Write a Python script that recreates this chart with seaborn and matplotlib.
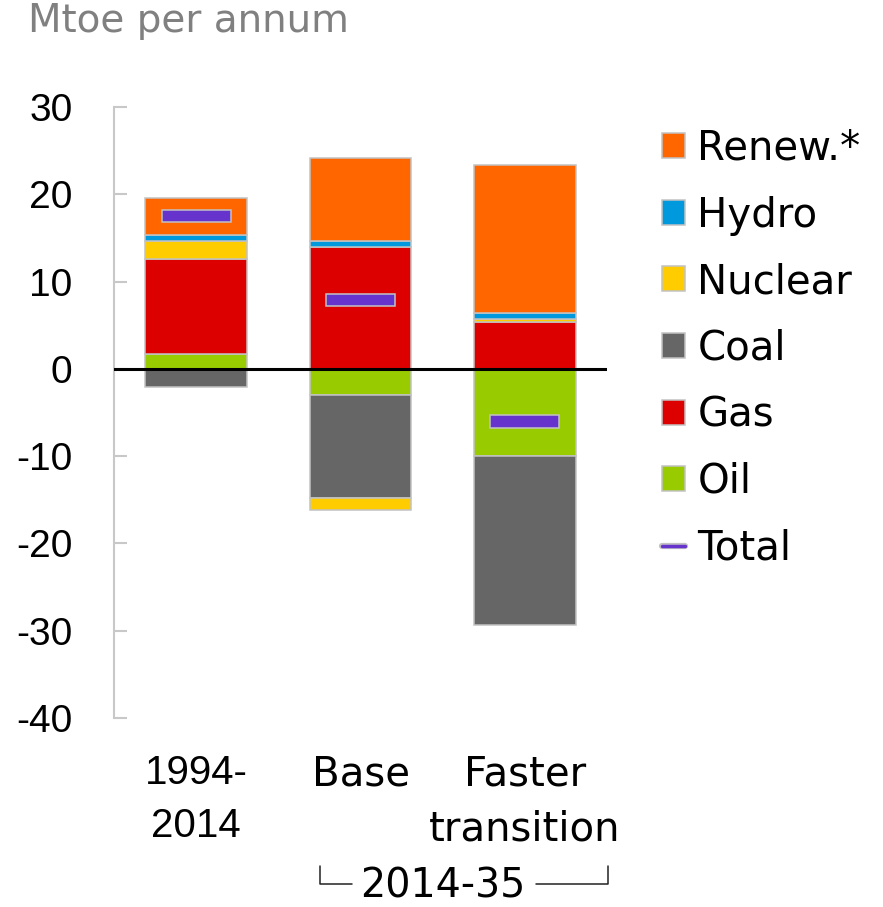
import numpy as np
import pandas as pd
import matplotlib
matplotlib.use("Agg")
import matplotlib.pyplot as plt
from matplotlib.patches import Patch
from matplotlib.lines import Line2D
import matplotlib.patheffects as pe
import seaborn as sns

# Change in primary energy consumption by fuel, Mtoe per annum
periods = ["1994-\n2014", "Base", "Faster\ntransition"]
oil = [1.7, -3.0, -10.0]
gas = [10.9, 14.0, 5.4]
coal = [-2.1, -11.8, -19.4]
nuclear = [2.0, -1.4, 0.3]
hydro = [0.7, 0.6, 0.7]
renew = [4.3, 9.5, 17.0]
total = [17.5, 7.9, -6.0]

fuel_names = ["Oil", "Gas", "Coal", "Nuclear", "Hydro", "Renew.*"]
fuel_values = [oil, gas, coal, nuclear, hydro, renew]
fuel_colors = {
    "Renew.*": "#ff6600",
    "Hydro": "#0099dd",
    "Nuclear": "#ffcc00",
    "Coal": "#666666",
    "Gas": "#dd0000",
    "Oil": "#99cc00",
}
total_color = "#6633cc"
edge_gray = "#c2c2c2"

sns.set_style("white")
plt.rcParams["font.family"] = ["Liberation Sans", "DejaVu Sans"]
plt.rcParams["axes.unicode_minus"] = False
plt.rcParams["text.color"] = "black"

fig = plt.figure(figsize=(8.83, 9.07), dpi=100)
W, H = 883, 907
ax = fig.add_axes([114 / W, 1 - 718 / H, (607 - 114) / W, (718 - 107) / H])

# stack positive and negative contributions separately
pos_base = np.zeros(len(periods))
neg_base = np.zeros(len(periods))
for name, vals in zip(fuel_names, fuel_values):
    vals = np.asarray(vals, dtype=float)
    bottoms = np.where(vals >= 0, pos_base, neg_base)
    df = pd.DataFrame({"period": periods, "value": vals})
    sns.barplot(data=df, x="period", y="value", order=periods, ax=ax,
                color=fuel_colors[name], width=0.62, bottom=bottoms,
                edgecolor=edge_gray, linewidth=1.1, saturation=1,
                errorbar=None, zorder=2)
    pos_base = pos_base + np.where(vals >= 0, vals, 0)
    neg_base = neg_base + np.where(vals < 0, vals, 0)

# net total marker
marker_h = 1.45
ax.bar(np.arange(len(periods)), [marker_h] * len(periods),
       bottom=np.asarray(total) - marker_h / 2, width=0.42,
       color=total_color, edgecolor=edge_gray, linewidth=1.1, zorder=5)

ax.axhline(0, color="black", linewidth=2.2, zorder=4)

ax.set_xlim(-0.5, 2.5)
ax.set_ylim(-40, 30)
ax.set_yticks(np.arange(-40, 31, 10))
ax.set_yticklabels([str(v) for v in range(-40, 31, 10)])
ax.set_xlabel("")
ax.set_ylabel("")

for side in ["top", "right", "bottom"]:
    ax.spines[side].set_visible(False)
ax.spines["left"].set_color("#c8c8c8")
ax.spines["left"].set_linewidth(1.5)
ax.tick_params(axis="y", left=True, direction="in", length=9.5, width=1.5,
               color="#c8c8c8", pad=30, labelsize=28, labelcolor="black")
ax.tick_params(axis="x", bottom=False, length=0, pad=26, labelsize=29,
               labelcolor="black")
ax.set_xticks(range(len(periods)))
ax.set_xticklabels(periods, linespacing=1.5)
for lbl in ax.get_xticklabels():
    if lbl.get_text().startswith("1994"):
        lbl.set_fontfamily(["Liberation Sans"])
    else:
        lbl.set_fontfamily(["DejaVu Sans"])
        lbl.set_fontsize(29)

# unit label
fig.text(28 / W, 1 - 32 / H, "Mtoe per annum", fontsize=28, color="#808080",
         family=["DejaVu Sans"], ha="left", va="baseline")

# period bracket under the scenario columns
def fx(px):
    return px / W

def fy(py):
    return 1 - py / H

bracket_color = "#222222"
fig.add_artist(Line2D([fx(320), fx(320), fx(352)], [fy(866), fy(884), fy(884)],
                      color=bracket_color, linewidth=1.1))
fig.add_artist(Line2D([fx(536), fx(608), fx(608)], [fy(884), fy(884), fy(866)],
                      color=bracket_color, linewidth=1.1))
fig.text(fx(443), fy(887), "2014-35", fontsize=28.5, family=["DejaVu Sans"],
         ha="center", va="center")

# legend
legend_order = ["Renew.*", "Hydro", "Nuclear", "Coal", "Gas", "Oil"]
handles = [Patch(facecolor=fuel_colors[n], edgecolor=edge_gray, linewidth=1.1)
           for n in legend_order]
handles.append(Line2D([0], [0], color=total_color, linewidth=2.5,
                      path_effects=[pe.Stroke(linewidth=4.5, foreground=edge_gray),
                                    pe.Normal()]))
labels = legend_order + ["Total"]
fig.legend(handles, labels, loc="upper left",
           bbox_to_anchor=(fx(662), fy(129)), bbox_transform=fig.transFigure,
           frameon=False, borderpad=0, borderaxespad=0,
           handlelength=0.58, handleheight=0.58, handletextpad=0.3,
           labelspacing=0.66, prop={"family": ["DejaVu Sans"], "size": 29})

fig.savefig("out.png", dpi=100)
